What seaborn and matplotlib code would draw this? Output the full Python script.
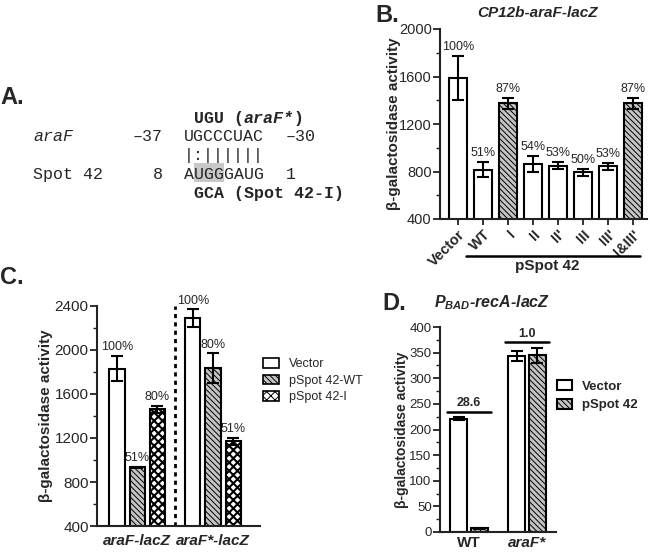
import numpy as np
import pandas as pd
import matplotlib
matplotlib.use("Agg")
import matplotlib.pyplot as plt
import matplotlib.transforms as mtransforms
import seaborn as sns
from matplotlib.patches import Patch, Rectangle
from matplotlib.ticker import MultipleLocator, AutoMinorLocator

# ---- panel B data ----
b_labels = ["Vector", "WT", "I", "II", "II'", "III", "III'", "I&III'"]
b_values = [1590, 815, 1375, 865, 850, 795, 845, 1375]
b_errors = [185, 65, 45, 65, 30, 30, 30, 45]
b_pct = ["100%", "51%", "87%", "54%", "53%", "50%", "53%", "87%"]
b_hatched = ["I", "I&III'"]

# ---- panel C data ----
c_reporters = ["araF-lacZ", "araF*-lacZ"]
c_plasmids = ["Vector", "pSpot 42-WT", "pSpot 42-I"]
c_vector = [1830, 2290]
c_vector_err = [115, 80]
c_wt = [935, 1835]
c_wt_err = [5, 135]
c_mut = [1460, 1170]
c_mut_err = [30, 30]
c_pct_vector = ["100%", "100%"]
c_pct_wt = ["51%", "80%"]
c_pct_mut = ["80%", "51%"]

# ---- panel D data ----
d_strains = ["WT", "araF*"]
d_plasmids = ["Vector", "pSpot 42"]
d_vector = [221, 343]
d_vector_err = [3, 10]
d_pspot = [7, 345]
d_pspot_err = [1, 15]
d_fold = ["28.6", "1.0"]

HATCH = "\\\\\\\\\\\\"
CHECK = "xxxx"
HATCH_FACE = "#c4c4c4"

sns.set_style("ticks")
plt.rcParams["font.family"] = ["Liberation Sans", "DejaVu Sans"]
plt.rcParams["mathtext.fontset"] = "custom"
plt.rcParams["mathtext.it"] = "Liberation Sans:italic:bold"
plt.rcParams["mathtext.rm"] = "Liberation Sans:bold"
plt.rcParams["hatch.linewidth"] = 0.7

W, H = 650, 559
fig = plt.figure(figsize=(W / 100, H / 100), dpi=100)


def px_axes(left, top, right, bottom):
    return fig.add_axes([left / W, 1 - bottom / H, (right - left) / W, (bottom - top) / H])


def ftext(x, y, s, **kw):
    return fig.text(x / W, 1 - y / H, s, **kw)


def style_axis(ax, tick_size):
    sns.despine(ax=ax)
    for s in ["left", "bottom"]:
        ax.spines[s].set_linewidth(1.5)
        ax.spines[s].set_color("#222222")
    ax.tick_params(axis="y", which="major", length=5, width=1.3, labelsize=tick_size, pad=1, color="#222222")
    ax.tick_params(axis="y", which="minor", length=3, width=1.0, color="#222222")
    ax.set_xlabel("")


def add_errors(ax, bars, vals, errs, capsize):
    xs = [p.get_x() + p.get_width() / 2 for p in bars]
    ax.errorbar(xs, vals, yerr=errs, fmt="none", ecolor="black", elinewidth=1.5,
                capsize=capsize, capthick=1.5, zorder=3)
    return xs


def set_hatch(p, hatch, lw=None):
    p.set_hatch(hatch)
    if lw is not None and hasattr(p, "set_hatch_linewidth"):
        p.set_hatch_linewidth(lw)


# ================= panel A =================
ftext(0, 97, "A.", fontsize=17, fontweight="bold", va="center", ha="left")
mono = "Liberation Mono"
cw = 10.0
ftext(194, 123, "UGU (", family=mono, fontsize=12, fontweight="bold", va="baseline")
ftext(194 + 5 * cw, 123, "araF*", family=mono, fontsize=12, fontweight="bold", fontstyle="italic", va="baseline")
ftext(194 + 10 * cw, 123, ")", family=mono, fontsize=12, fontweight="bold", va="baseline")
ftext(33, 141, "araF", family=mono, fontsize=12, fontstyle="italic", va="baseline")
ftext(133, 141, "–37", family=mono, fontsize=12, va="baseline")
ftext(184, 141, "UGCCCUAC", family=mono, fontsize=12, va="baseline")
ftext(286, 141, "–30", family=mono, fontsize=12, va="baseline")
ftext(184, 160, "|:||||||", family=mono, fontsize=12, va="baseline")
fig.add_artist(Rectangle((194 / W, 1 - 182 / H), 3 * cw / W, 19 / H,
                         transform=fig.transFigure, facecolor="#c8c8c8", edgecolor="none", zorder=0))
ftext(33, 179, "Spot 42", family=mono, fontsize=12, va="baseline")
ftext(153, 179, "8", family=mono, fontsize=12, va="baseline")
ftext(184, 179, "AUGGGAUG", family=mono, fontsize=12, va="baseline")
ftext(286, 179, "1", family=mono, fontsize=12, va="baseline")
ftext(194, 198, "GCA (Spot 42-I)", family=mono, fontsize=12, fontweight="bold", va="baseline")

# ================= panel B =================
axB = px_axes(440, 29, 647, 219)
sns.barplot(x=b_labels, y=b_values, order=b_labels, color="white", saturation=1,
            edgecolor="black", linewidth=1.5, width=0.72, ax=axB)
barsB = axB.containers[0]
for lab, p in zip(b_labels, barsB):
    if lab in b_hatched:
        p.set_facecolor(HATCH_FACE)
        set_hatch(p, HATCH)
xs = add_errors(axB, barsB, b_values, b_errors, 4.5)
for x, v, e, t in zip(xs, b_values, b_errors, b_pct):
    axB.annotate(t, (x, v + e), xytext=(0, 2), textcoords="offset points",
                 ha="center", va="bottom", fontsize=9)
style_axis(axB, 10.5)
axB.set_ylim(400, 2000)
axB.set_xlim(-0.72, 7.56)
axB.yaxis.set_major_locator(MultipleLocator(400))
axB.yaxis.set_minor_locator(AutoMinorLocator(2))
axB.set_ylabel("β-galactosidase activity", fontsize=11, fontweight="bold")
axB.yaxis.set_label_coords(-0.19, 0.5)
axB.set_xticks(range(len(b_labels)))
axB.set_xticklabels(b_labels, rotation=45, ha="right", rotation_mode="anchor",
                    fontweight="bold", fontsize=10.5)
axB.tick_params(axis="x", length=4, width=1.3, pad=2, color="#222222")
trB = mtransforms.blended_transform_factory(axB.transData, axB.transAxes)
axB.plot([0.32, 7.28], [-0.195, -0.195], transform=trB, color="black", lw=1.8, clip_on=False)
axB.text(3.56, -0.245, "pSpot 42", transform=trB, ha="center", va="center",
         fontweight="bold", fontsize=11)
ftext(375, 15, "B.", fontsize=17, fontweight="bold", va="center", ha="left")
ftext(538, 13, "CP12b-araF-lacZ", fontsize=11, fontweight="bold", fontstyle="italic",
      va="center", ha="center")

# ================= panel C =================
axC = px_axes(97, 306, 260, 526)
dfC = pd.DataFrame({
    "reporter": c_reporters * 3,
    "plasmid": np.repeat(c_plasmids, len(c_reporters)),
    "activity": c_vector + c_wt + c_mut,
})
sns.barplot(data=dfC, x="reporter", y="activity", hue="plasmid", order=c_reporters,
            hue_order=c_plasmids, palette={p: "white" for p in c_plasmids}, saturation=1,
            edgecolor="black", linewidth=1.5, width=0.8, gap=0.25, legend=False, ax=axC)
for p in axC.containers[1]:
    p.set_facecolor(HATCH_FACE)
    set_hatch(p, HATCH)
for p in axC.containers[2]:
    set_hatch(p, CHECK, 1.5)
for bars, vals, errs, pcts in zip(axC.containers,
                                  [c_vector, c_wt, c_mut],
                                  [c_vector_err, c_wt_err, c_mut_err],
                                  [c_pct_vector, c_pct_wt, c_pct_mut]):
    xs = add_errors(axC, bars, vals, errs, 4)
    for x, v, e, t in zip(xs, vals, errs, pcts):
        axC.annotate(t, (x, v + e), xytext=(0, 2), textcoords="offset points",
                     ha="center", va="bottom", fontsize=9)
style_axis(axC, 11)
axC.set_ylim(400, 2400)
axC.set_xlim(-0.53, 1.62)
axC.yaxis.set_major_locator(MultipleLocator(400))
axC.yaxis.set_minor_locator(AutoMinorLocator(2))
axC.axvline(0.5, color="black", lw=2, ls=(0, (1.5, 1.5)))
axC.set_ylabel("β-galactosidase activity", fontsize=11, fontweight="bold")
axC.yaxis.set_label_coords(-0.27, 0.5)
axC.set_xticks(range(len(c_reporters)))
axC.set_xticklabels(c_reporters, fontweight="bold", fontstyle="italic", fontsize=11)
axC.tick_params(axis="x", length=0, pad=6)
hC = [Patch(facecolor="white", edgecolor="black", lw=1.2),
      Patch(facecolor=HATCH_FACE, edgecolor="black", lw=1.2, hatch=HATCH),
      Patch(facecolor="white", edgecolor="black", lw=1.2, hatch=CHECK)]
axC.legend(hC, c_plasmids, loc="upper left", bbox_to_anchor=(263 / W, 1 - 358 / H),
           bbox_transform=fig.transFigure, frameon=False, fontsize=9, handlelength=1.3,
           handleheight=0.8, handletextpad=0.8, labelspacing=0.35, borderpad=0, borderaxespad=0)
ftext(0, 277, "C.", fontsize=17, fontweight="bold", va="center", ha="left")

# ================= panel D =================
axD = px_axes(440, 327, 556, 532)
dfD = pd.DataFrame({
    "strain": d_strains * 2,
    "plasmid": np.repeat(d_plasmids, len(d_strains)),
    "activity": d_vector + d_pspot,
})
sns.barplot(data=dfD, x="strain", y="activity", hue="plasmid", order=d_strains,
            hue_order=d_plasmids, palette={p: "white" for p in d_plasmids}, saturation=1,
            edgecolor="black", linewidth=1.5, width=0.72, gap=0.2, legend=False, ax=axD)
for p in axD.containers[1]:
    p.set_facecolor(HATCH_FACE)
    set_hatch(p, HATCH)
add_errors(axD, axD.containers[0], d_vector, d_vector_err, 4)
add_errors(axD, axD.containers[1], d_pspot, d_pspot_err, 4)
for i, t in enumerate(d_fold):
    top = max(d_vector[i] + d_vector_err[i], d_pspot[i] + d_pspot_err[i]) + 10
    axD.plot([i - 0.38, i + 0.38], [top, top], color="black", lw=1.8, clip_on=False)
    axD.annotate(t, (i, top), xytext=(0, 2), textcoords="offset points", ha="center",
                 va="bottom", fontsize=9, fontweight="bold", annotation_clip=False)
style_axis(axD, 9.5)
axD.set_ylim(0, 400)
axD.set_xlim(-0.5, 1.5)
axD.yaxis.set_major_locator(MultipleLocator(50))
axD.yaxis.set_minor_locator(AutoMinorLocator(2))
axD.set_ylabel("β-galactosidase activity", fontsize=10, fontweight="bold")
axD.yaxis.set_label_coords(-0.265, 0.5)
axD.set_xticks(range(len(d_strains)))
axD.set_xticklabels(d_strains, fontweight="bold", fontsize=11)
axD.get_xticklabels()[1].set_fontstyle("italic")
axD.tick_params(axis="x", length=0, pad=3)
hD = [Patch(facecolor="white", edgecolor="black", lw=1.5),
      Patch(facecolor=HATCH_FACE, edgecolor="black", lw=1.5, hatch=HATCH)]
axD.legend(hD, d_plasmids, loc="upper left", bbox_to_anchor=(557 / W, 1 - 380 / H),
           bbox_transform=fig.transFigure, frameon=False, prop={"weight": "bold", "size": 9.5},
           handlelength=1.1, handleheight=0.8, handletextpad=0.8, labelspacing=0.45,
           borderpad=0, borderaxespad=0)
ftext(382, 303, "D.", fontsize=17, fontweight="bold", va="center", ha="left")
ftext(492, 303, "$P_{BAD}$-recA-lacZ", fontsize=11.5, fontweight="bold", fontstyle="italic",
      va="center", ha="center")

fig.savefig("out.png", dpi=100)
